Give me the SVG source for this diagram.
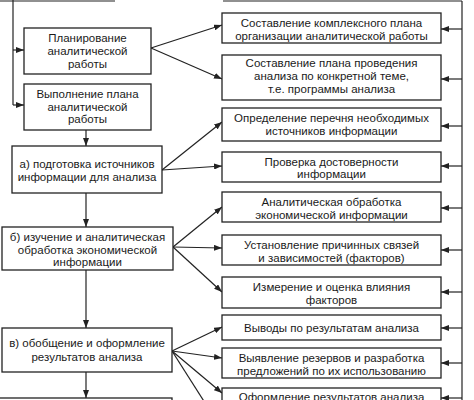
<svg xmlns="http://www.w3.org/2000/svg" width="474" height="400" viewBox="0 0 474 400">
<defs>
<marker id="ah" viewBox="0 0 8 6" refX="8" refY="3" markerWidth="8" markerHeight="6" markerUnits="userSpaceOnUse" orient="auto">
<path d="M0,0 L8,3 L0,6 z" fill="#222"/>
</marker>
<style>
.box{fill:#fff;stroke:#222;stroke-width:1.3}
.t{font-family:"Liberation Sans",Arial,sans-serif;font-size:11.5px;fill:#1a1a1a;text-anchor:middle}
.c{stroke:#222;stroke-width:1.2;fill:none}
.a{stroke:#222;stroke-width:1.2;fill:none;marker-end:url(#ah)}
</style>
</defs>
<rect width="474" height="400" fill="#fff"/>
<g id="connectors">
<line class="c" x1="0" y1="1" x2="115" y2="1"/>
<line class="c" x1="223" y1="1" x2="462" y2="1"/>
<line class="c" x1="13" y1="0" x2="13" y2="105"/>
<line class="a" x1="13" y1="50" x2="24" y2="50"/>
<line class="a" x1="13" y1="105" x2="24" y2="105"/>
<line class="c" x1="462" y1="1" x2="462" y2="400"/>
<line class="a" x1="462" y1="29" x2="441" y2="29"/>
<line class="a" x1="462" y1="79" x2="441" y2="79"/>
<line class="a" x1="462" y1="126" x2="441" y2="126"/>
<line class="a" x1="462" y1="166" x2="441" y2="166"/>
<line class="a" x1="462" y1="208" x2="441" y2="208"/>
<line class="a" x1="462" y1="250" x2="441" y2="250"/>
<line class="a" x1="462" y1="292" x2="441" y2="292"/>
<line class="a" x1="462" y1="328" x2="441" y2="328"/>
<line class="a" x1="462" y1="363" x2="441" y2="363"/>
<line class="a" x1="462" y1="398" x2="441" y2="398"/>
<line class="a" x1="86" y1="130" x2="86" y2="146"/>
<line class="a" x1="86" y1="193" x2="86" y2="227"/>
<line class="a" x1="86" y1="270" x2="86" y2="328"/>
<line class="a" x1="86" y1="372" x2="86" y2="398"/>
<line class="a" x1="151" y1="48" x2="222" y2="25"/>
<line class="a" x1="151" y1="48" x2="222" y2="79"/>
<line class="a" x1="162" y1="170" x2="222" y2="122"/>
<line class="a" x1="162" y1="170" x2="222" y2="166"/>
<line class="a" x1="173" y1="247" x2="222" y2="207"/>
<line class="a" x1="173" y1="247" x2="222" y2="248"/>
<line class="a" x1="173" y1="247" x2="222" y2="292"/>
<line class="a" x1="172" y1="351" x2="222" y2="327"/>
<line class="a" x1="172" y1="351" x2="222" y2="358"/>
<line class="a" x1="172" y1="351" x2="222" y2="393"/>
<line class="c" x1="172" y1="351" x2="207" y2="406"/>
</g>
<g id="n_plan">
<rect class="box" x="24" y="28" width="127" height="46"/>
<text class="t" x="87.5" y="42">Планирование</text>
<text class="t" x="87.5" y="55">аналитической</text>
<text class="t" x="87.5" y="68">работы</text>
</g>
<g id="n_vyp">
<rect class="box" x="24" y="84" width="127" height="46"/>
<text class="t" x="87.5" y="97.5">Выполнение плана</text>
<text class="t" x="87.5" y="110.5">аналитической</text>
<text class="t" x="87.5" y="123">работы</text>
</g>
<g id="n_a">
<rect class="box" x="12" y="146" width="150" height="47"/>
<text class="t" x="87" y="168">а) подготовка источников</text>
<text class="t" x="87" y="181">информации для анализа</text>
</g>
<g id="n_b">
<rect class="box" x="2" y="227" width="171" height="43"/>
<text class="t" x="87.5" y="241">б) изучение и аналитическая</text>
<text class="t" x="87.5" y="253.5">обработка экономической</text>
<text class="t" x="87.5" y="266">информации</text>
</g>
<g id="n_v">
<rect class="box" x="2" y="328" width="170" height="44"/>
<text class="t" x="87" y="347">в) обобщение и оформление</text>
<text class="t" x="87" y="361">результатов анализа</text>
</g>
<g id="n_bottom">
<rect class="box" x="-2" y="398" width="174" height="20"/>
</g>
<g id="r1">
<rect class="box" x="222" y="13" width="219" height="30"/>
<text class="t" x="331.5" y="27">Составление комплексного плана</text>
<text class="t" x="331.5" y="39.5">организации аналитической работы</text>
</g>
<g id="r2">
<rect class="box" x="222" y="55" width="219" height="45"/>
<text class="t" x="331.5" y="67">Составление плана проведения</text>
<text class="t" x="331.5" y="80">анализа по конкретной теме,</text>
<text class="t" x="331.5" y="92.5">т.е. программы анализа</text>
</g>
<g id="r3">
<rect class="box" x="222" y="108" width="219" height="33"/>
<text class="t" x="331.5" y="122">Определение перечня необходимых</text>
<text class="t" x="331.5" y="134.5">источников информации</text>
</g>
<g id="r4">
<rect class="box" x="222" y="152" width="219" height="30"/>
<text class="t" x="331.5" y="166">Проверка достоверности</text>
<text class="t" x="331.5" y="178">информации</text>
</g>
<g id="r5">
<rect class="box" x="222" y="192" width="219" height="30"/>
<text class="t" x="331.5" y="206">Аналитическая обработка</text>
<text class="t" x="331.5" y="219">экономической информации</text>
</g>
<g id="r6">
<rect class="box" x="222" y="235" width="219" height="30"/>
<text class="t" x="331.5" y="249">Установление причинных связей</text>
<text class="t" x="331.5" y="261.5">и зависимостей (факторов)</text>
</g>
<g id="r7">
<rect class="box" x="222" y="277" width="219" height="31"/>
<text class="t" x="331.5" y="291">Измерение и оценка влияния</text>
<text class="t" x="331.5" y="303.5">факторов</text>
</g>
<g id="r8">
<rect class="box" x="222" y="315" width="219" height="25"/>
<text class="t" x="331.5" y="332">Выводы по результатам анализа</text>
</g>
<g id="r9">
<rect class="box" x="222" y="348" width="219" height="30"/>
<text class="t" x="331.5" y="362">Выявление резервов и разработка</text>
<text class="t" x="331.5" y="374.5">предложений по их использованию</text>
</g>
<g id="r10">
<rect class="box" x="222" y="388" width="219" height="30"/>
<text class="t" x="331.5" y="401">Оформление результатов анализа</text>
</g>
</svg>
